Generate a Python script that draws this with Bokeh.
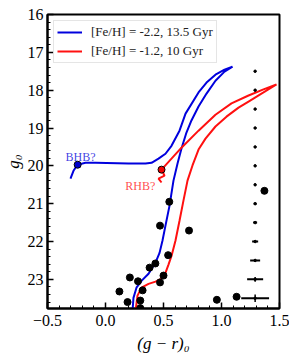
from bokeh.plotting import figure
from bokeh.models import Range1d, FixedTicker, Legend, LegendItem
from bokeh.core.properties import value
from bokeh.embed import file_html
from bokeh.resources import INLINE

# Isochrone [Fe/H] = -2.2, 13.5 Gyr (HB -> AGB -> tip -> RGB -> turnoff)
blue_x = [-0.302, -0.276, -0.241, -0.172, -0.086, 0.198, 0.345, 0.397, 0.457, 0.517, 0.569,
          0.638, 0.690, 0.802, 0.871, 0.948, 1.026, 1.095,
          1.026, 0.948, 0.871, 0.802, 0.741, 0.698, 0.655, 0.621, 0.586, 0.552, 0.517,
          0.491, 0.466, 0.431, 0.371, 0.310, 0.267, 0.241, 0.233]
blue_y = [20.34, 20.13, 19.97, 19.92, 19.92, 19.94, 19.94, 19.92, 19.81, 19.68, 19.47,
          19.07, 18.62, 18.06, 17.80, 17.59, 17.46, 17.38,
          17.51, 17.75, 18.09, 18.43, 18.80, 19.12, 19.54, 19.94, 20.39, 21.05, 21.58,
          21.98, 22.30, 22.56, 22.85, 23.04, 23.22, 23.49, 23.83]

# Isochrone [Fe/H] = -1.2, 10 Gyr (RHB hook -> AGB -> tip -> RGB -> turnoff)
red_x = [0.483, 0.457, 0.509, 0.483, 0.569, 0.655, 0.802, 0.948, 1.086, 1.233, 1.362, 1.474,
         1.362, 1.233, 1.147, 1.043, 0.948, 0.862, 0.802, 0.750, 0.707, 0.672, 0.638, 0.603,
         0.569, 0.543, 0.517, 0.483, 0.431, 0.371, 0.310, 0.276, 0.259]
red_y = [20.44, 20.34, 20.26, 20.10, 19.81, 19.52, 19.07, 18.65, 18.35, 18.14, 17.98, 17.85,
         18.06, 18.30, 18.46, 18.70, 18.96, 19.28, 19.57, 19.99, 20.39, 20.92, 21.45, 21.98,
         22.38, 22.61, 22.83, 22.98, 23.06, 23.12, 23.22, 23.43, 23.83]

# Member stars
star_x = [1.37, 0.55, 0.47, 0.72, 0.54, 0.43, 0.38, 0.50, 0.47, 0.96, 1.13,
          0.12, 0.21, 0.28, 0.19, 0.30, 0.32, 0.30]
star_y = [20.66, 20.95, 21.58, 21.71, 22.36, 22.58, 22.69, 22.90, 23.08, 23.54, 23.46,
          23.32, 22.95, 23.05, 23.60, 23.56, 23.29, 23.76]

# Horizontal-branch candidates
bhb_x, bhb_y = [-0.24], [19.97]
rhb_x, rhb_y = [0.483], [20.10]

# Photometric error bars
err_x = [1.29] * 13
err_y = [17.5, 18.0, 18.5, 19.0, 19.5, 20.0, 20.5, 21.0, 21.5, 22.0, 22.5, 23.0, 23.5]
err_col = [0.003, 0.003, 0.003, 0.004, 0.004, 0.005, 0.007, 0.012, 0.017, 0.026, 0.043, 0.069, 0.12]
err_mag = [0.003, 0.003, 0.003, 0.004, 0.004, 0.005, 0.006, 0.008, 0.012, 0.018, 0.03, 0.06, 0.1]

x_ticks = [-0.5, 0.0, 0.5, 1.0, 1.5]
x_tick_labels = ["\u22120.5", "0.0", "0.5", "1.0", "1.5"]
y_ticks = [16, 17, 18, 19, 20, 21, 22, 23]

legend_labels = ["[Fe/H] = -2.2, 13.5 Gyr", "[Fe/H] = -1.2, 10 Gyr"]

FONT = "'Liberation Serif', 'DejaVu Serif', serif"

p = figure(frame_width=232, frame_height=294,
           x_range=Range1d(-0.5, 1.5), y_range=Range1d(23.77, 16.0),
           output_backend="svg", toolbar_location=None,
           min_border_left=41, min_border_right=10, min_border_top=14, min_border_bottom=44)
p.grid.visible = False
p.outline_line_color = "black"
p.outline_line_width = 2
p.background_fill_color = "white"
p.border_fill_color = "white"

l1 = p.line(blue_x, blue_y, line_color="#0000dd", line_width=2)
l2 = p.line(red_x, red_y, line_color="#ff1010", line_width=2)

p.scatter(star_x, star_y, size=7, fill_color="black", line_color="black")
p.scatter(bhb_x, bhb_y, size=7, fill_color="#0000cc", line_color="black", line_width=1)
p.scatter(rhb_x, rhb_y, size=7, fill_color="#ee0000", line_color="black", line_width=1)

x0 = [x - e for x, e in zip(err_x, err_col)]
x1 = [x + e for x, e in zip(err_x, err_col)]
y0 = [y - e for y, e in zip(err_y, err_mag)]
y1 = [y + e for y, e in zip(err_y, err_mag)]
p.segment(x0, err_y, x1, err_y, line_color="black", line_width=2)
p.segment(err_x, y0, err_x, y1, line_color="black", line_width=1.5)
p.scatter(err_x, err_y, size=2.5, fill_color="black", line_color="black")

p.text([-0.345], [19.76], text=["BHB?"], text_color="#2020dd", text_alpha=0.85,
       text_font=value(FONT), text_font_size="12px", text_baseline="alphabetic", text_align="left")
p.text([0.17], [20.52], text=["RHB?"], text_color="#ff2020", text_alpha=0.8,
       text_font=value(FONT), text_font_size="12px", text_baseline="alphabetic", text_align="left")

legend = Legend(items=[LegendItem(label=legend_labels[0], renderers=[l1]),
                       LegendItem(label=legend_labels[1], renderers=[l2])],
                location="top_left", margin=6, padding=3, spacing=3,
                glyph_width=25, glyph_height=16, label_height=16, label_standoff=9,
                label_text_font=FONT, label_text_font_size="13px", label_text_color="#222222",
                border_line_color="#cccccc", border_line_width=1,
                background_fill_alpha=0.8)
p.add_layout(legend)

minor_x = [round(-0.5 + 0.1 * i, 2) for i in range(21)]
minor_y = [round(16 + 0.2 * i, 2) for i in range(39)]
p.xaxis.ticker = FixedTicker(ticks=x_ticks, minor_ticks=minor_x)
p.yaxis.ticker = FixedTicker(ticks=y_ticks, minor_ticks=minor_y)
p.xaxis.major_label_overrides = {t: s for t, s in zip(x_ticks, x_tick_labels)}

for ax in (p.xaxis[0], p.yaxis[0]):
    ax.axis_line_width = 2
    ax.axis_line_color = "black"
    ax.major_tick_in = 6
    ax.major_tick_out = 0
    ax.minor_tick_in = 3
    ax.minor_tick_out = 0
    ax.major_tick_line_width = 1.5
    ax.minor_tick_line_width = 1
    ax.major_label_text_font = FONT
    ax.major_label_text_font_size = "16px"
    ax.major_label_text_color = "black"
    ax.axis_label_text_font = FONT
    ax.axis_label_text_font_style = "italic"
    ax.axis_label_text_color = "black"

p.xaxis.major_label_standoff = 6
p.xaxis.axis_label_standoff = 5
p.yaxis.major_label_standoff = 4
p.yaxis.axis_label_standoff = 2

p.xaxis.axis_label = "(g \u2212 r)\u2080"
p.xaxis.axis_label_text_font_size = "17px"
p.yaxis.axis_label = "g\u2080"
p.yaxis.axis_label_text_font_size = "17px"

open("out.html", "w").write(file_html(p, INLINE))
